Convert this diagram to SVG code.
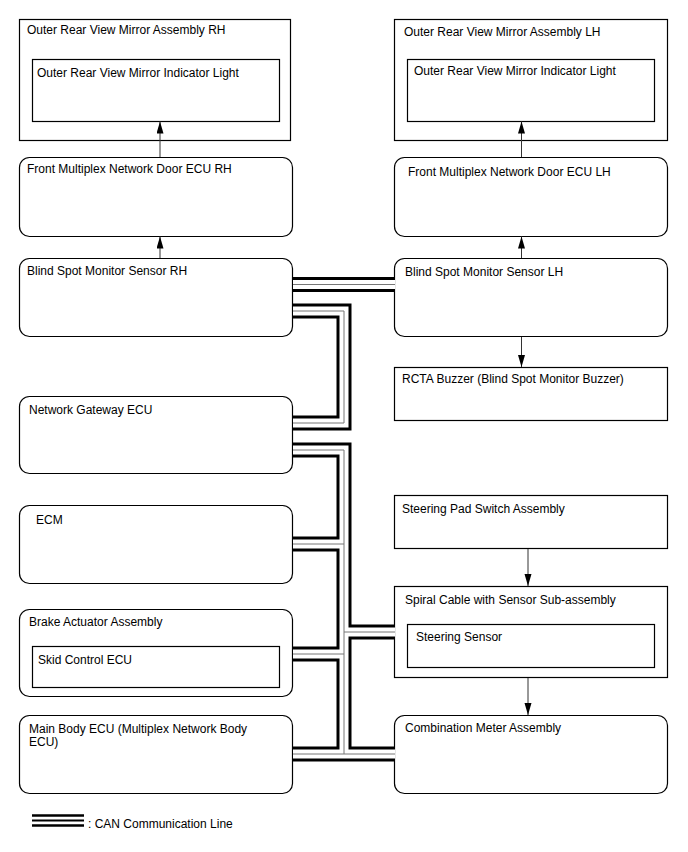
<svg xmlns="http://www.w3.org/2000/svg" width="688" height="852" viewBox="0 0 688 852">
<style>
.box{fill:#fff;stroke:#000;stroke-width:1.2}
.t{font-family:"Liberation Sans",Arial,sans-serif;font-size:12px;fill:#000}
.cb{fill:none;stroke:#000;stroke-width:15;stroke-linejoin:miter}
.cw{fill:none;stroke:#fff;stroke-width:9;stroke-linejoin:miter}
.cg{fill:none;stroke:#777;stroke-width:1;stroke-linejoin:miter}
.ar{stroke:#333;stroke-width:1;fill:none}
</style>
<defs>
<marker id="ah" markerUnits="userSpaceOnUse" markerWidth="12" markerHeight="8" refX="12" refY="3.5" orient="auto">
<path d="M0,0 L12,3.5 L0,7 z" fill="#000"/>
</marker>
</defs>
<rect width="688" height="852" fill="#fff"/>

<g id="mirror-rh">
<rect class="box" x="19.5" y="19.5" width="271" height="121"/>
<text class="t" x="27" y="34">Outer Rear View Mirror Assembly RH</text>
<rect class="box" x="32.5" y="59.5" width="247" height="62"/>
<text class="t" x="37" y="77">Outer Rear View Mirror Indicator Light</text>
</g>
<g id="mirror-lh">
<rect class="box" x="394.5" y="19.5" width="273" height="121"/>
<text class="t" x="404" y="36">Outer Rear View Mirror Assembly LH</text>
<rect class="box" x="407.5" y="59.5" width="247" height="62"/>
<text class="t" x="414" y="75">Outer Rear View Mirror Indicator Light</text>
</g>
<g id="door-rh">
<rect class="box" x="19.5" y="157.5" width="273" height="79" rx="10"/>
<text class="t" x="27" y="173">Front Multiplex Network Door ECU RH</text>
</g>
<g id="door-lh">
<rect class="box" x="394.5" y="157.5" width="273" height="79" rx="10"/>
<text class="t" x="408" y="176">Front Multiplex Network Door ECU LH</text>
</g>
<g id="bsm-rh">
<rect class="box" x="19.5" y="258.5" width="273" height="78" rx="10"/>
<text class="t" x="27" y="275">Blind Spot Monitor Sensor RH</text>
</g>
<g id="bsm-lh">
<rect class="box" x="394.5" y="258.5" width="273" height="78" rx="10"/>
<text class="t" x="405" y="276">Blind Spot Monitor Sensor LH</text>
</g>
<g id="rcta">
<rect class="box" x="394.5" y="367.5" width="273" height="53"/>
<text class="t" x="402" y="383">RCTA Buzzer (Blind Spot Monitor Buzzer)</text>
</g>
<g id="gateway">
<rect class="box" x="19.5" y="396.5" width="273" height="77" rx="10"/>
<text class="t" x="29" y="414">Network Gateway ECU</text>
</g>
<g id="ecm">
<rect class="box" x="19.5" y="505.5" width="273" height="78" rx="10"/>
<text class="t" x="36" y="524">ECM</text>
</g>
<g id="steering-pad">
<rect class="box" x="394.5" y="495.5" width="273" height="53"/>
<text class="t" x="402" y="513">Steering Pad Switch Assembly</text>
</g>
<g id="spiral">
<rect class="box" x="394.5" y="586.5" width="273" height="91"/>
<text class="t" x="405" y="604">Spiral Cable with Sensor Sub-assembly</text>
<rect class="box" x="407.5" y="624.5" width="247" height="43"/>
<text class="t" x="416" y="641">Steering Sensor</text>
</g>
<g id="brake">
<rect class="box" x="19.5" y="609.5" width="273" height="87" rx="10"/>
<text class="t" x="29" y="626">Brake Actuator Assembly</text>
<rect class="box" x="32.5" y="646.5" width="247" height="41"/>
<text class="t" x="38" y="664">Skid Control ECU</text>
</g>
<g id="main-body">
<rect class="box" x="19.5" y="715.5" width="273" height="78" rx="10"/>
<text class="t" x="29" y="733">Main Body ECU (Multiplex Network Body</text>
<text class="t" x="29" y="746">ECU)</text>
</g>
<g id="combination">
<rect class="box" x="394.5" y="715.5" width="273" height="78" rx="10"/>
<text class="t" x="405" y="732">Combination Meter Assembly</text>
</g>

<g id="connectors">
<g id="can-black">
<path class="cb" d="M293,284.5 H395"/>
<path class="cb" d="M293,311 H344 V423 H293"/>
<path class="cb" d="M293,450 H344 V754"/>
<path class="cb" d="M293,544 H344"/>
<path class="cb" d="M293,654 H344"/>
<path class="cb" d="M344,632 H395"/>
<path class="cb" d="M293,754 H395"/>
</g>
<g id="can-white">
<path class="cw" d="M293,284.5 H395"/>
<path class="cw" d="M293,311 H344 V423 H293"/>
<path class="cw" d="M293,450 H344 V754"/>
<path class="cw" d="M293,544 H344"/>
<path class="cw" d="M293,654 H344"/>
<path class="cw" d="M344,632 H395"/>
<path class="cw" d="M293,754 H395"/>
</g>
<g id="can-gray">
<path class="cg" d="M293,284.5 H395"/>
<path class="cg" d="M293,311 H344 V423 H293"/>
<path class="cg" d="M293,450 H344 V754"/>
<path class="cg" d="M293,544 H344"/>
<path class="cg" d="M293,654 H344"/>
<path class="cg" d="M344,632 H395"/>
<path class="cg" d="M293,754 H395"/>
</g>
<line class="ar" x1="160" y1="157" x2="160" y2="121.5" marker-end="url(#ah)"/>
<line class="ar" x1="160" y1="258" x2="160" y2="236.5" marker-end="url(#ah)"/>
<line class="ar" x1="521.5" y1="157" x2="521.5" y2="121.5" marker-end="url(#ah)"/>
<line class="ar" x1="521.5" y1="258" x2="521.5" y2="236.5" marker-end="url(#ah)"/>
<line class="ar" x1="521.5" y1="337" x2="521.5" y2="367" marker-end="url(#ah)"/>
<line class="ar" x1="528" y1="549" x2="528" y2="586" marker-end="url(#ah)"/>
<line class="ar" x1="528" y1="678" x2="528" y2="715" marker-end="url(#ah)"/>
</g>

<g id="legend">
<line x1="32" y1="815.5" x2="84" y2="815.5" stroke="#000" stroke-width="2.5"/>
<line x1="32" y1="820.5" x2="84" y2="820.5" stroke="#000" stroke-width="2"/>
<line x1="32" y1="825.5" x2="84" y2="825.5" stroke="#000" stroke-width="2.5"/>
<text class="t" x="88" y="828">: CAN Communication Line</text>
</g>
</svg>
